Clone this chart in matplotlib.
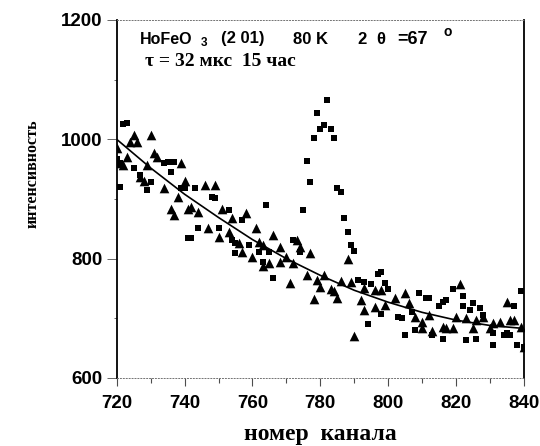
import numpy as np
import matplotlib
matplotlib.use("Agg")
import matplotlib.pyplot as plt
from matplotlib.ticker import MultipleLocator

# triangles (channel, intensity)
tri_ch = [720, 720, 722, 723, 724, 725, 726, 727, 728, 729,
          730, 731, 732, 734, 736, 737, 738, 739, 740, 741,
          742, 744, 746, 747, 749, 750, 751, 753, 754, 756,
          757, 758, 760, 761, 762, 763, 763, 765, 766, 768,
          768, 770, 771, 772, 773, 774, 776, 777, 778, 779,
          780, 781, 783, 784, 785, 786, 788, 789, 790, 792,
          793, 793, 796, 796, 798, 799, 802, 805, 806, 808,
          810, 810, 812, 813, 816, 817, 819, 820, 821, 823,
          825, 826, 828, 830, 831, 833, 835, 836, 837, 839,
          840]
tri_int = [985, 960, 957, 971, 996, 1007, 996, 937, 931, 957,
           1007, 977, 971, 918, 884, 873, 903, 960, 931, 884,
           887, 879, 923, 851, 923, 837, 884, 845, 868, 826,
           812, 876, 803, 851, 828, 787, 823, 792, 840, 795,
           820, 803, 759, 792, 831, 820, 773, 809, 732, 764,
           753, 773, 750, 745, 734, 763, 799, 761, 670, 731,
           751, 714, 719, 748, 748, 722, 734, 742, 726, 703,
           694, 683, 706, 678, 686, 683, 683, 703, 757, 700,
           683, 697, 703, 683, 692, 694, 728, 697, 698, 686,
           652]

# squares (channel, intensity)
sq_ch = [720, 721, 721, 722, 723, 725, 727, 729, 730, 734,
         735, 736, 737, 739, 740, 741, 742, 743, 744, 748,
         749, 750, 753, 754, 755, 755, 757, 759, 762, 763,
         764, 765, 766, 772, 774, 775, 776, 777, 778, 779,
         780, 781, 782, 783, 784, 785, 786, 787, 788, 789,
         790, 791, 793, 794, 795, 797, 798, 798, 799, 800,
         803, 804, 805, 807, 808, 809, 811, 812, 813, 815,
         816, 817, 816, 819, 822, 822, 823, 824, 825, 826,
         827, 828, 831, 831, 834, 835, 836, 837, 838, 839,
         840]
sq_int = [967, 960, 920, 1026, 1028, 952, 940, 915, 929, 960,
          962, 946, 962, 918, 918, 834, 834, 918, 851, 904,
          902, 851, 882, 831, 826, 809, 865, 823, 812, 795,
          890, 812, 767, 831, 812, 882, 963, 929, 1002, 1044,
          1017, 1024, 1066, 1018, 1002, 918, 912, 868, 845, 823,
          813, 764, 761, 690, 758, 775, 778, 707, 760, 750,
          703, 700, 672, 711, 680, 742, 734, 734, 672, 720,
          728, 731, 666, 750, 737, 720, 664, 714, 725, 666,
          717, 706, 655, 675, 672, 675, 672, 720, 655, 745,
          652]

# fitted background curve, read every 10 channels
fit_ch = [720, 730, 740, 750, 760, 770, 780, 790, 800, 810, 820, 830, 840]
fit_int = [1000, 952, 908, 869, 832, 800, 772, 747, 727, 710, 697, 688, 683]

W, H = 540, 446
fig = plt.figure(figsize=(W / 100, H / 100), dpi=100)
ax = fig.add_axes([116.7 / W, 1 - 378 / H, (524 - 116.7) / W, (378 - 20) / H])

ax.plot(fit_ch, fit_int, color="black", lw=1.2, zorder=2)
ax.scatter(sq_ch, sq_int, marker="s", s=20, color="black", linewidths=0, zorder=3)
ax.scatter(tri_ch, tri_int, marker="^", s=48, color="black", linewidths=0, zorder=3)

ax.set_xlim(720, 840)
ax.set_ylim(600, 1200)
ax.xaxis.set_major_locator(MultipleLocator(20))
ax.xaxis.set_minor_locator(MultipleLocator(10))
ax.yaxis.set_major_locator(MultipleLocator(200))
ax.yaxis.set_minor_locator(MultipleLocator(100))

ax.spines["left"].set_linewidth(1.3)
ax.spines["right"].set_linewidth(1.3)
for s in ("top", "bottom"):
    ax.spines[s].set_linestyle((0, (1, 2)))
    ax.spines[s].set_linewidth(0.7)
    ax.spines[s].set_color("0.45")

ax.tick_params(axis="x", which="major", direction="out", length=6, width=0.8,
               color="0.3", pad=6)
ax.tick_params(axis="x", which="minor", direction="out", length=3.5, width=0.8,
               color="0.3")
ax.tick_params(axis="y", which="major", direction="out", length=7, width=0.7,
               color="0.4", pad=3)
ax.tick_params(axis="y", which="minor", direction="out", length=2.5, width=0.7,
               color="0.4")

for lab in ax.get_xticklabels() + ax.get_yticklabels():
    lab.set_fontfamily("Liberation Sans")
    lab.set_fontweight("bold")
    lab.set_fontsize(13.5)

ax.set_xlabel("номер  канала", fontfamily="Liberation Serif", fontweight="bold",
              fontsize=17, labelpad=9)
fig.text(33 / W, 1 - 174 / H, "интенсивность", rotation=90, ha="center", va="center",
         fontfamily="Liberation Serif", fontweight="bold", fontsize=11.5)

# header text inside the frame, pieces placed where they sit in the picture
sans = dict(fontfamily=["Liberation Sans", "DejaVu Sans"], fontweight="bold",
            va="center", ha="left", fontsize=12)
fig.text(140 / W, 1 - 39 / H, "HoFeO", **{**sans, "fontsize": 11.5})
fig.text(201 / W, 1 - 43.5 / H, "3", **{**sans, "fontsize": 8.5})
fig.text(221 / W, 1 - 39 / H, "(2 01)", **sans)
fig.text(293 / W, 1 - 39 / H, "80 K", **sans)
fig.text(357 / W, 1 - 39 / H, "2", **sans)
fig.text(376 / W, 1 - 39 / H, "θ", **sans)
fig.text(397 / W, 1 - 39 / H, "=67", **{**sans, "fontsize": 13})
fig.text(444 / W, 1 - 32 / H, "o", **{**sans, "fontsize": 10})
fig.text(145 / W, 1 - 61 / H, "τ = 32 мкс  15 час", fontsize=14,
         fontfamily=["Liberation Serif", "DejaVu Serif"], fontweight="bold",
         va="center", ha="left")

fig.savefig("out.png", dpi=100)
